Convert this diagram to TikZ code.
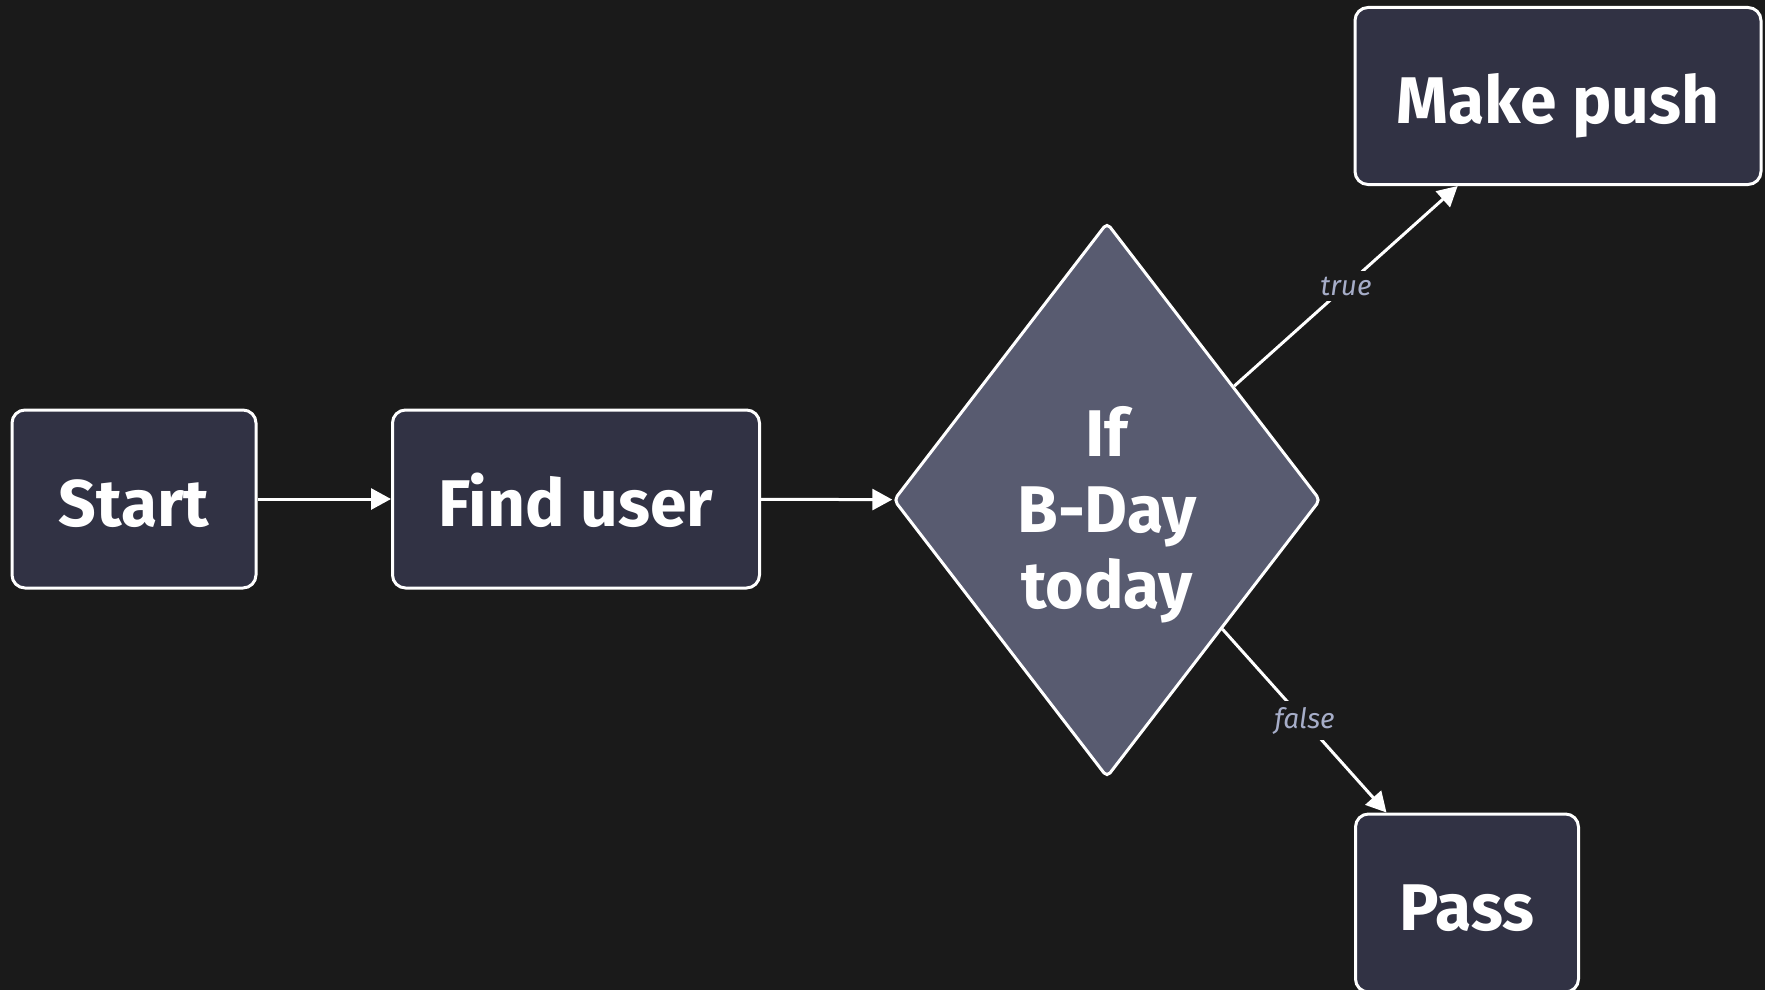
\documentclass[tikz,border=0pt]{standalone}
\usepackage{fontspec}
\setmainfont{Fira Sans}
\usetikzlibrary{shapes.geometric}
\usetikzlibrary{arrows.meta}

\definecolor{bgdark}{HTML}{1A1A1A}
\definecolor{boxfill}{HTML}{313244}
\definecolor{decfill}{HTML}{585B70}
\definecolor{labelcol}{HTML}{A6ADC8}

\tikzset{
  stepbox/.style={draw=white, line width=3pt, fill=boxfill, rounded corners=13pt,
    minimum height=178pt, inner sep=0pt, text=white, text height=54pt, text depth=0pt,
    font=\fontsize{66}{76}\selectfont\bfseries},
  decbox/.style={diamond, draw=white, line width=3pt, fill=decfill, rounded corners=5pt,
    minimum width=427pt, minimum height=555pt, inner sep=0pt, text=white, align=center,
    text height=216pt, text depth=0pt,
    font=\fontsize{66}{76}\selectfont\bfseries},
  flow/.style={draw=white, line width=3pt, -{Triangle[length=20pt,width=21pt]}},
  edgelabel/.style={fill=bgdark, text=labelcol, inner sep=6pt,
    font=\fontsize{28}{32}\selectfont\itshape}
}

\begin{document}
\begin{tikzpicture}[x=1pt,y=-1pt]

\path[use as bounding box, fill=bgdark] (0, 0) rectangle (1765, 990);

\node[stepbox, minimum width=244pt] (start) at (134, 499) {Start};
\node[stepbox, minimum width=367pt] (find) at (576, 499) {Find user};
\node[decbox] (bday) at (1107, 500) {If\\B-Day\\today};
\node[stepbox, minimum width=406pt, minimum height=177pt] (push) at (1558, 96) {Make push};
\node[stepbox, minimum width=223pt] (pass) at (1467, 903) {Pass};

\draw[flow] (start) -- (find);
\draw[flow] (find) -- (bday);
\draw[flow] (bday) -- node[edgelabel] {true} (push);
\draw[flow] (bday) -- node[edgelabel] {false} (pass);

\end{tikzpicture}
\end{document}
